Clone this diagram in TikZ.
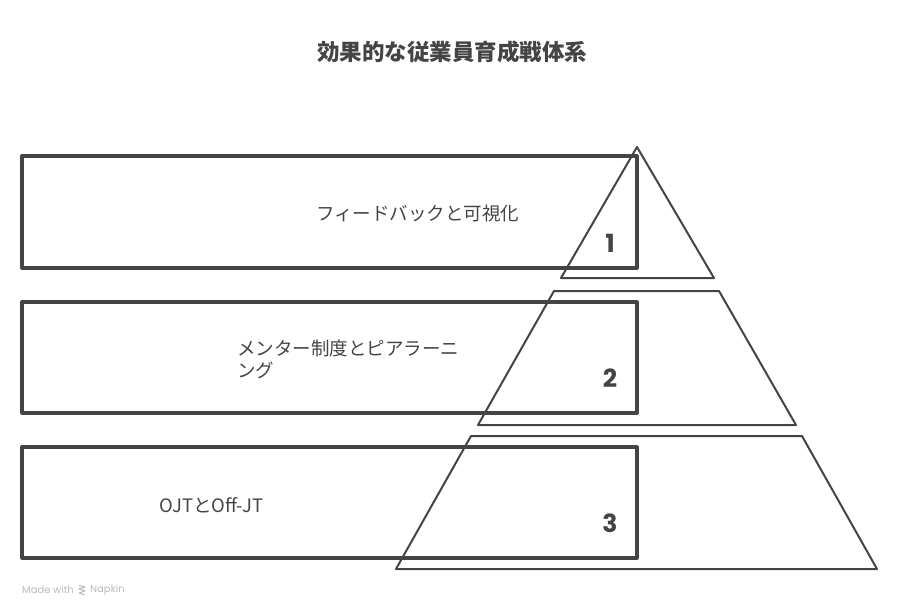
\documentclass[tikz,border=0pt]{standalone}
\usepackage{fontspec}
\setmainfont{Noto Sans CJK JP}
\newfontfamily\numfont{Poppins}
\newfontfamily\wmfont{Poppins}
\definecolor{ink}{HTML}{444444}
\definecolor{wm}{HTML}{BBBBBB}
\tikzset{
  barbox/.style={draw=ink, line width=3.2pt, line join=round},
  tierline/.style={draw=ink, line width=2pt, line join=round},
  numlabel/.style={text=ink, font=\numfont\bfseries\fontsize{25}{28}\selectfont},
  itemlabel/.style={text=ink, font=\fontsize{18.5}{22}\selectfont, align=left, inner sep=0pt},
}
\begin{document}
\begin{tikzpicture}[x=1pt, y=-1pt]
\useasboundingbox (0,0) rectangle (900,615);
% title
\node[text=ink, font=\bfseries\fontsize{22.5}{26}\selectfont] (title) at (452,52) {効果的な従業員育成戦体系};
% bars
\draw[barbox] (22,156) rectangle (637,268);
\draw[barbox] (22,302) rectangle (637,413);
\draw[barbox] (22,447) rectangle (637,558);
% pyramid tiers
\draw[tierline] (637,147) -- (714,278) -- (561,278) -- cycle;
\draw[tierline] (554,291) -- (719,291) -- (796,425) -- (478,425) -- cycle;
\draw[tierline] (471,436) -- (802,436) -- (877,569) -- (396,569) -- cycle;
% numbers
\node[numlabel] (n1) at (610,243) {1};
\node[numlabel] (n2) at (610,378) {2};
\node[numlabel] (n3) at (610,523) {3};
% labels
\node[itemlabel, anchor=west] (l1) at (316,213) {フィードバックと可視化};
\node[itemlabel, anchor=west] (l2a) at (237,348) {メンター制度とピアラーニ};
\node[itemlabel, anchor=west] (l2b) at (237,370) {ング};
\node[itemlabel, anchor=west] (l3) at (159,505) {OJTとOff-JT};
% watermark
\node[text=wm, font=\wmfont\fontsize{10}{11}\selectfont, anchor=west, inner sep=0pt] (wmk1) at (22,590) {Made with};
\node[text=wm, font=\wmfont\fontsize{10}{11}\selectfont, anchor=west, inner sep=0pt] (wmk2) at (90,590) {Napkin};
\draw[wm, line width=1pt, line join=round] (79,585.5) -- (85,587) -- (79,589) -- (85,591) -- (79,593) -- (85,595);
\end{tikzpicture}
\end{document}
